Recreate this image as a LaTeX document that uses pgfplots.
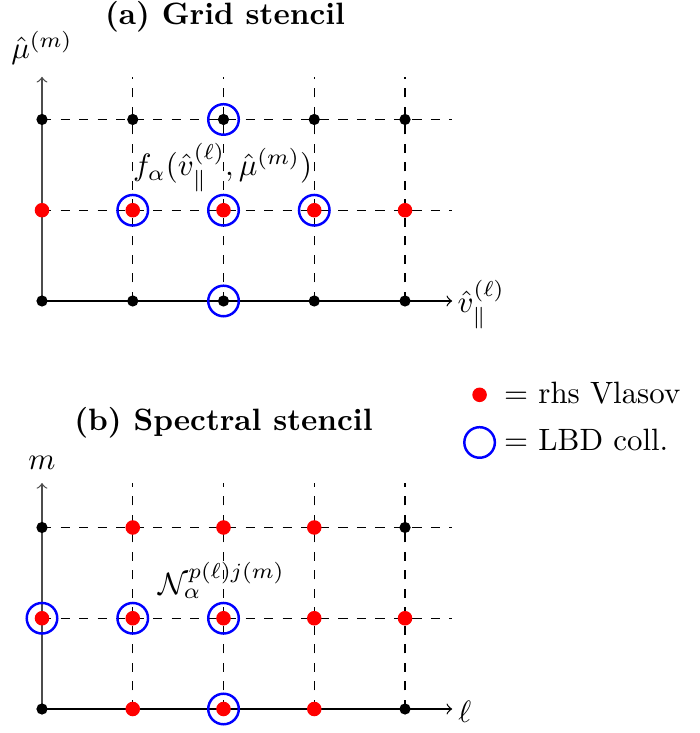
\documentclass[border=0pt]{standalone}
\usepackage{pgfplots}
\pgfplotsset{compat=1.18}
\begin{document}
\begin{tikzpicture}
% overall canvas
\useasboundingbox (0,0) rectangle (226.476pt,237.492pt);
\pgfplotsset{
  stencil/.style={
    hide axis, clip=false, anchor=south west,
    x=29.403pt, y=29.403pt, xmin=0, xmax=4.52, ymin=0,
    scale only axis,
  },
  blackpt/.style={only marks, mark=*, mark size=1.6pt, black, forget plot},
  redpt/.style={only marks, mark=*, mark size=2.15pt, red},
  bluecirc/.style={only marks, mark=o, mark size=4.95pt, blue, line width=0.8pt},
}
% ---------------- (a) grid stencil ----------------
\begin{axis}[stencil, at={(13.608pt,139.968pt)}, ymax=2.47]
  \draw[dashed] (axis cs:0,1) -- (axis cs:4.52,1);
  \draw[dashed] (axis cs:0,2) -- (axis cs:4.52,2);
  \foreach \i in {1,2,3,4} {
    \edef\tmp{\noexpand\draw[dashed] (axis cs:\i,0) -- (axis cs:\i,2.47);}\tmp
  }
  \draw[->] (axis cs:0,0) -- (axis cs:4.52,0);
  \draw[->, black!70] (axis cs:0,0) -- (axis cs:0,2.47);
  \addplot[blackpt] coordinates {(0,0) (1,0) (2,0) (3,0) (4,0) (0,2) (1,2) (2,2) (3,2) (4,2)};
  \addplot[redpt, forget plot] coordinates {(0,1) (1,1) (2,1) (3,1) (4,1)};
  \addplot[bluecirc, forget plot] coordinates {(2,2) (1,1) (2,1) (3,1) (2,0)};
  \node at (axis cs:2.017,3.13) {\bfseries (a) Grid stencil};
  \node at (axis cs:0.0,2.79) {$\hat{\mu}^{(m)}$};
  \node at (axis cs:4.84,-0.04) {$\hat{v}_{\parallel}^{(\ell)}$};
  \node at (axis cs:1.99,1.47) {$f_\alpha(\hat{v}_{\parallel}^{(\ell)},\hat{\mu}^{(m)})$};
\end{axis}
% ---------------- (b) spectral stencil ----------------
\begin{axis}[stencil, at={(13.608pt,7.776pt)}, ymax=2.49,
  legend style={draw=none, fill=none, at={(1.028,1.478)}, anchor=north west,
    font=\normalsize, row sep=3pt, column sep=1pt, inner sep=0pt},
  legend cell align=left]
  \draw[dashed] (axis cs:0,1) -- (axis cs:4.52,1);
  \draw[dashed] (axis cs:0,2) -- (axis cs:4.52,2);
  \foreach \i in {1,2,3,4} {
    \edef\tmp{\noexpand\draw[dashed] (axis cs:\i,0) -- (axis cs:\i,2.49);}\tmp
  }
  \draw[->] (axis cs:0,0) -- (axis cs:4.52,0);
  \draw[->, black!70] (axis cs:0,0) -- (axis cs:0,2.49);
  \addplot[blackpt] coordinates {(0,0) (4,0) (0,2) (4,2)};
  \addplot[redpt] coordinates {(1,0) (2,0) (3,0) (0,1) (1,1) (2,1) (3,1) (4,1) (1,2) (2,2) (3,2)};
  \addlegendentry{$=$ rhs Vlasov}
  \addplot[bluecirc] coordinates {(0,1) (1,1) (2,1) (2,0)};
  \addlegendentry{$=$ LBD coll.}
  \node at (axis cs:2.0,3.15) {\bfseries (b) Spectral stencil};
  \node at (axis cs:0,2.71) {$m$};
  \node at (axis cs:4.66,-0.03) {$\ell$};
  \node at (axis cs:1.98,1.42) {$\mathcal{N}_\alpha^{p(\ell)j(m)}$};
\end{axis}
\end{tikzpicture}
\end{document}
